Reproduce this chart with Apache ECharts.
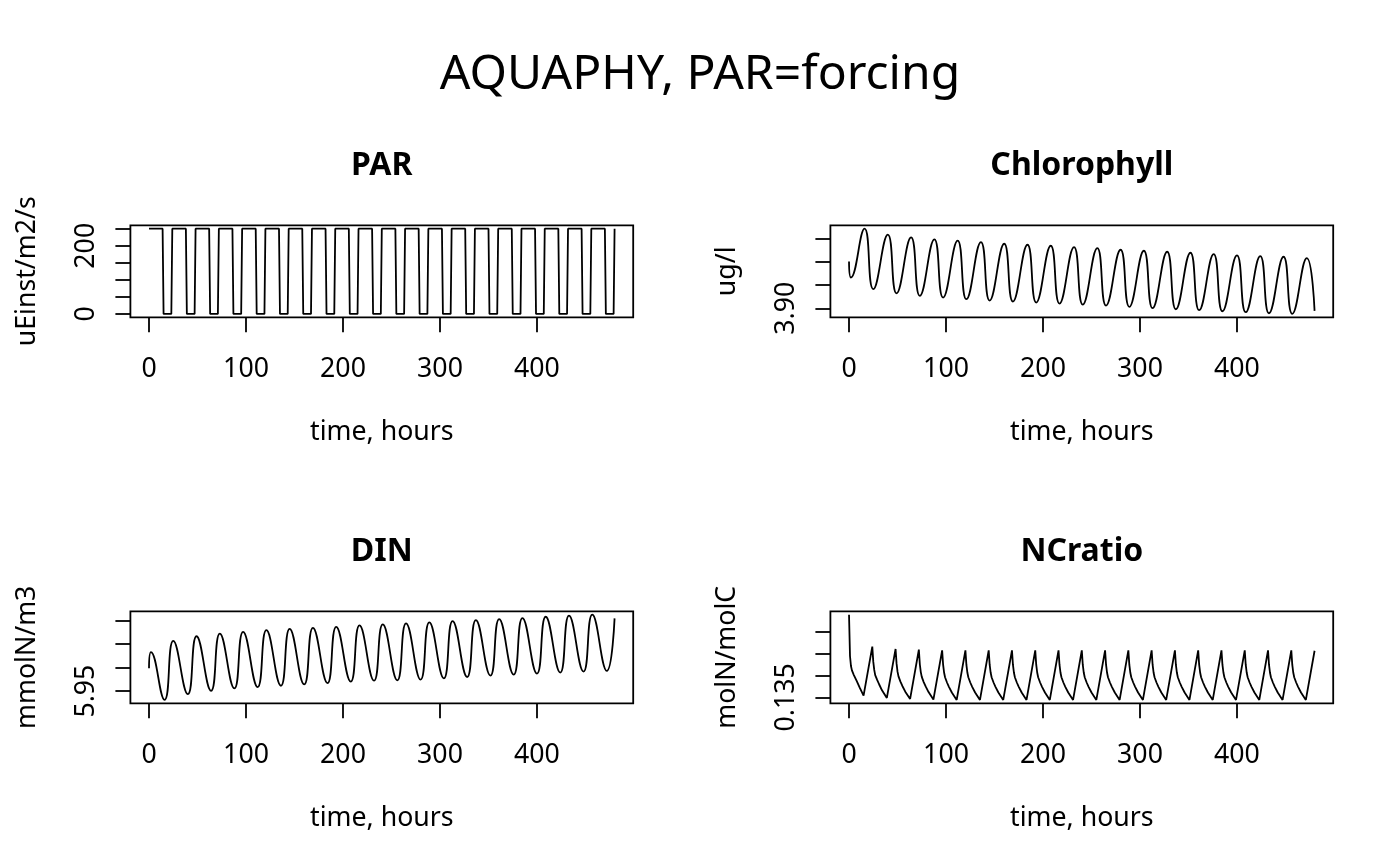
<!DOCTYPE html>
<html>
<head>
<meta charset="utf-8">
<script src="https://cdn.jsdelivr.net/npm/echarts@6/dist/echarts.min.js"></script>
<style>
  html, body { margin: 0; padding: 0; background: #fff; }
  #chart { width: 1400px; height: 866px; }
</style>
</head>
<body>
<div id="chart"></div>
<script>
// time axis (hours)
const timeTicks = [0, 100, 200, 300, 400];

// PAR forcing, uEinst/m2/s  [time, value]
const parData = [
  [0,250],[14,250],[15,0],[23,0],
  [24,250],[38,250],[39,0],[47,0],
  [48,250],[62,250],[63,0],[71,0],
  [72,250],[86,250],[87,0],[95,0],
  [96,250],[110,250],[111,0],[119,0],
  [120,250],[134,250],[135,0],[143,0],
  [144,250],[158,250],[159,0],[167,0],
  [168,250],[182,250],[183,0],[191,0],
  [192,250],[206,250],[207,0],[215,0],
  [216,250],[230,250],[231,0],[239,0],
  [240,250],[254,250],[255,0],[263,0],
  [264,250],[278,250],[279,0],[287,0],
  [288,250],[302,250],[303,0],[311,0],
  [312,250],[326,250],[327,0],[335,0],
  [336,250],[350,250],[351,0],[359,0],
  [360,250],[374,250],[375,0],[383,0],
  [384,250],[398,250],[399,0],[407,0],
  [408,250],[422,250],[423,0],[431,0],
  [432,250],[446,250],[447,0],[455,0],
  [456,250],[470,250],[471,0],[479,0],
  [480,250]
];
const parTicks = [0, 50, 100, 150, 200, 250];
const parLabels = [0, 200];

// Chlorophyll, ug/l (daily peaks and troughs)
const chlData = [
  [0,4.0005],[2,3.9660],[16,4.0708],[25,3.9410],[40,4.0580],[49,3.9320],
  [64,4.0520],[73,3.9266],[88,4.0479],[97,3.9230],[112,4.0450],[121,3.9194],
  [136,4.0421],[145,3.9166],[160,4.0385],[169,3.9144],[184,4.0364],[193,3.9123],
  [208,4.0342],[217,3.9101],[232,4.0314],[241,3.9080],[256,4.0292],[265,3.9058],
  [280,4.0256],[289,3.9030],[304,4.0235],[313,3.9001],[328,4.0213],[337,3.8979],
  [352,4.0192],[361,3.8958],[376,4.0163],[385,3.8936],[400,4.0134],[409,3.8915],
  [424,4.0120],[433,3.8893],[448,4.0106],[457,3.8879],[472,4.0077],[480,3.8943]
];
const chlTicks = [3.90, 3.95, 4.00, 4.05];
const chlLabels = [3.90];

// DIN, mmolN/m3
const dinData = [
  [0,5.9986],[2,6.0329],[16,5.9314],[25,6.0564],[40,5.9436],[49,6.0664],
  [64,5.9507],[73,6.0721],[88,5.9557],[97,6.0757],[112,5.9586],[121,6.0793],
  [136,5.9614],[145,6.0821],[160,5.9643],[169,6.0843],[184,5.9671],[193,6.0864],
  [208,5.9700],[217,6.0893],[232,5.9721],[241,6.0914],[256,5.9730],[265,6.0936],
  [280,5.9743],[289,6.0957],[304,5.9771],[313,6.0986],[328,5.9800],[337,6.1007],
  [352,5.9829],[361,6.1028],[376,5.9850],[385,6.1050],[400,5.9871],[409,6.1078],
  [424,5.9893],[433,6.1100],[448,5.9914],[457,6.1121],[472,5.9929],[480,6.1043]
];
const dinTicks = [5.95, 6.00, 6.05, 6.10];
const dinLabels = [5.95];

// NCratio, molN/molC
const ncData = [
  [0,0.1540],[1,0.1445],[2,0.1422],[3,0.1412],[5,0.1401],[8,0.1387],[11,0.1372],[15,0.1354],
  [24,0.14665],[25,0.1432],[26,0.1413],[27,0.1401],[29,0.1390],[31,0.1380],[34,0.1366],[39,0.13485],
  [48,0.14612],[49,0.1428],[50,0.1409],[51,0.1398],[53,0.1386],[55,0.1376],[58,0.1363],[63,0.13462],
  [72,0.14596],[73,0.1426],[74,0.1408],[75,0.1397],[77,0.1385],[79,0.1375],[82,0.1362],[87,0.13447],
  [96,0.1458],[97,0.1425],[98,0.1407],[99,0.1396],[101,0.1384],[103,0.1374],[106,0.1361],[111,0.1344],
  [120,0.1458],[121,0.1425],[122,0.1407],[123,0.1396],[125,0.1384],[127,0.1374],[130,0.1361],[135,0.1344],
  [144,0.1458],[145,0.1425],[146,0.1407],[147,0.1396],[149,0.1384],[151,0.1374],[154,0.1361],[159,0.1344],
  [168,0.1458],[169,0.1425],[170,0.1407],[171,0.1396],[173,0.1384],[175,0.1374],[178,0.1361],[183,0.1344],
  [192,0.1458],[193,0.1425],[194,0.1407],[195,0.1396],[197,0.1384],[199,0.1374],[202,0.1361],[207,0.1344],
  [216,0.1458],[217,0.1425],[218,0.1407],[219,0.1396],[221,0.1384],[223,0.1374],[226,0.1361],[231,0.1344],
  [240,0.1458],[241,0.1425],[242,0.1407],[243,0.1396],[245,0.1384],[247,0.1374],[250,0.1361],[255,0.1344],
  [264,0.1458],[265,0.1425],[266,0.1407],[267,0.1396],[269,0.1384],[271,0.1374],[274,0.1361],[279,0.1344],
  [288,0.1458],[289,0.1425],[290,0.1407],[291,0.1396],[293,0.1384],[295,0.1374],[298,0.1361],[303,0.1344],
  [312,0.1458],[313,0.1425],[314,0.1407],[315,0.1396],[317,0.1384],[319,0.1374],[322,0.1361],[327,0.1344],
  [336,0.1458],[337,0.1425],[338,0.1407],[339,0.1396],[341,0.1384],[343,0.1374],[346,0.1361],[351,0.1344],
  [360,0.1458],[361,0.1425],[362,0.1407],[363,0.1396],[365,0.1384],[367,0.1374],[370,0.1361],[375,0.1344],
  [384,0.1458],[385,0.1425],[386,0.1407],[387,0.1396],[389,0.1384],[391,0.1374],[394,0.1361],[399,0.1344],
  [408,0.1458],[409,0.1425],[410,0.1407],[411,0.1396],[413,0.1384],[415,0.1374],[418,0.1361],[423,0.1344],
  [432,0.1458],[433,0.1425],[434,0.1407],[435,0.1396],[437,0.1384],[439,0.1374],[442,0.1361],[447,0.1344],
  [456,0.1458],[457,0.1425],[458,0.1407],[459,0.1396],[461,0.1384],[463,0.1374],[466,0.1361],[471,0.1344],
  [480,0.1457]
];
const ncTicks = [0.135, 0.140, 0.145, 0.150];
const ncLabels = [0.135];

const panels = [
  { title: "PAR", unit: "uEinst/m2/s", data: parData, ticks: parTicks, labels: parLabels, digits: 0, smooth: false },
  { title: "Chlorophyll", unit: "ug/l", data: chlData, ticks: chlTicks, labels: chlLabels, digits: 2, smooth: 0.5 },
  { title: "DIN", unit: "mmolN/m3", data: dinData, ticks: dinTicks, labels: dinLabels, digits: 2, smooth: 0.5 },
  { title: "NCratio", unit: "molN/molC", data: ncData, ticks: ncTicks, labels: ncLabels, digits: 3, smooth: false }
];

const FONT = "Noto Sans";
const LW = 1.8;
const boxLeft = [130.4, 830.4];
const boxTop = [225.3, 611.3];
const boxW = 502.8, boxH = 92;

// R style 4% padding around data range
const padMin = v => v.min - 0.04 * (v.max - v.min);
const padMax = v => v.max + 0.04 * (v.max - v.min);

const chart = echarts.init(document.getElementById("chart"));

const option = {
  animation: false,
  backgroundColor: "#fff",
  textStyle: { fontFamily: FONT, color: "#000" },
  title: [
    {
      text: "AQUAPHY, PAR=forcing",
      left: 700, top: 51, textAlign: "center", padding: 0,
      textStyle: { fontFamily: FONT, fontSize: 48, fontWeight: "normal", color: "#000" }
    }
  ],
  grid: [],
  xAxis: [],
  yAxis: [],
  series: []
};

panels.forEach((p, i) => {
  const col = i % 2, row = Math.floor(i / 2);
  option.title.push({
    text: p.title,
    left: boxLeft[col] + boxW / 2, top: boxTop[row] - 75, textAlign: "center", padding: 0,
    textStyle: { fontFamily: FONT, fontSize: 32, fontWeight: "bold", color: "#000" }
  });
  option.grid.push({
    left: boxLeft[col], top: boxTop[row], width: boxW, height: boxH,
    show: true, borderColor: "#000", borderWidth: LW, backgroundColor: "transparent"
  });
  option.xAxis.push({
    type: "value", gridIndex: i, min: -19.2, max: 499.2, position: "bottom",
    name: "time, hours", nameLocation: "middle", nameGap: 102,
    nameTextStyle: { fontFamily: FONT, fontSize: 26.7, color: "#000" },
    axisLine: { show: false, onZero: false },
    splitLine: { show: false },
    axisTick: { show: true, inside: false, customValues: timeTicks, length: 15, lineStyle: { color: "#000", width: LW } },
    axisLabel: { customValues: timeTicks, margin: 39, fontFamily: FONT, fontSize: 26.7, color: "#000" }
  });
  option.yAxis.push({
    type: "value", gridIndex: i, min: padMin, max: padMax, position: "left",
    name: p.unit, nameLocation: "middle", nameGap: 90,
    nameTextStyle: { fontFamily: FONT, fontSize: 26.7, color: "#000" },
    axisLine: { show: false, onZero: false },
    splitLine: { show: false },
    axisTick: { show: true, inside: false, customValues: p.ticks, length: 15, lineStyle: { color: "#000", width: LW } },
    axisLabel: {
      customValues: p.labels, rotate: 90, margin: 31,
      fontFamily: FONT, fontSize: 26.7, color: "#000",
      formatter: v => Number(v).toFixed(p.digits)
    }
  });
  option.series.push({
    type: "line", xAxisIndex: i, yAxisIndex: i, data: p.data,
    smooth: p.smooth, showSymbol: false, silent: true,
    lineStyle: { color: "#000", width: LW }
  });
});

chart.setOption(option);
window.addEventListener("resize", () => chart.resize());
</script>
</body>
</html>
